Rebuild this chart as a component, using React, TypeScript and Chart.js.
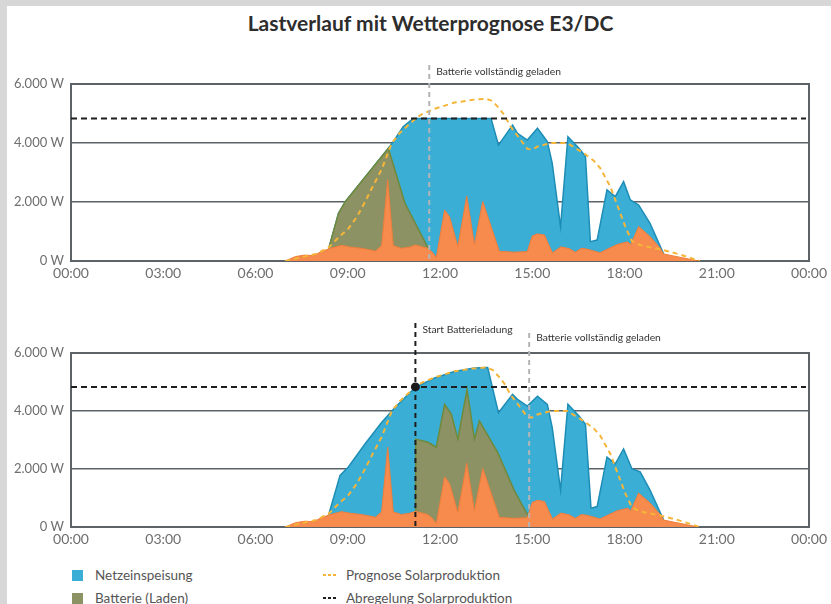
import React, { useEffect, useRef } from "react";
import { Chart, registerables } from "chart.js";

Chart.register(...registerables);

// ---------- data ----------
const titel = "Lastverlauf mit Wetterprognose E3/DC";
const xTickStunden = [0, 3, 6, 9, 12, 15, 18, 21, 24];
const yTickWerte = [0, 2000, 4000, 6000];
const abregelungGrenze = 4830; // W

// house consumption (orange), same day in both charts
const verbrauchZeit = [6.97, 7.3, 7.6, 7.9, 8.1, 8.4, 8.8, 9.1, 9.45, 9.9, 10.1, 10.3, 10.48, 10.75, 11.0, 11.2, 11.6, 11.75, 11.88, 12.15, 12.31, 12.58, 12.87, 13.12, 13.39, 13.93, 14.41, 14.84, 15.0, 15.17, 15.4, 15.55, 15.66, 15.93, 16.2, 16.4, 16.6, 16.8, 17.2, 17.76, 18.1, 18.2, 18.46, 18.83, 19.15, 19.27, 20.4];
const verbrauchWerte = [0, 150, 200, 180, 300, 420, 530, 470, 430, 340, 520, 2750, 520, 430, 470, 540, 430, 300, 120, 1730, 1500, 500, 2200, 560, 2020, 330, 300, 320, 850, 920, 880, 520, 280, 480, 420, 300, 430, 400, 280, 560, 650, 560, 1170, 830, 450, 240, 0];

// weather forecast of solar production (dashed)
const prognoseZeit = [6.97, 7.5, 8.0, 8.4, 8.7, 9.02, 9.3, 9.56, 9.8, 10.1, 10.43, 10.7, 10.96, 11.21, 11.4, 11.83, 12.47, 13.12, 13.5, 13.71, 13.9, 14.09, 14.3, 14.52, 14.84, 15.0, 15.17, 15.6, 16.14, 16.68, 17.0, 17.21, 17.54, 17.86, 18.05, 18.24, 18.5, 19.16, 19.8, 20.45];
const prognoseWerte = [0, 130, 250, 480, 800, 1100, 1500, 2000, 2500, 3100, 3990, 4350, 4600, 4830, 4970, 5160, 5370, 5470, 5500, 5420, 5200, 4950, 4550, 4250, 3800, 3780, 3880, 4000, 4000, 3650, 3400, 3150, 2520, 1620, 1100, 680, 540, 400, 220, 0];

// chart 1: total production (top of blue area), capped
const produktion1Zeit = [8.38, 8.7, 8.92, 10.32, 10.48, 10.8, 11.13, 13.66, 13.9, 14.36, 14.52, 14.84, 15.17, 15.49, 15.65, 15.92, 16.16, 16.52, 16.73, 16.89, 17.11, 17.43, 17.7, 17.97, 18.19, 18.46, 18.83, 19.27];
const produktion1Werte = [420, 1617, 2010, 3820, 4045, 4550, 4830, 4830, 3930, 4610, 4330, 4100, 4500, 4045, 3310, 1160, 4215, 3820, 3540, 655, 710, 2410, 2180, 2690, 2070, 1900, 1280, 240];

// chart 1: consumption + battery charging (top of olive area)
const batterie1Zeit = [8.38, 8.7, 8.92, 10.32, 10.86, 11.62];
const batterie1Werte = [420, 1617, 2010, 3820, 1955, 430];

// chart 2: total production (top of blue area), uncapped
const produktion2Zeit = [8.38, 8.75, 9.02, 9.56, 10.1, 10.53, 10.96, 11.21, 11.83, 12.47, 13.12, 13.55, 13.9, 14.36, 14.52, 14.84, 15.17, 15.49, 15.65, 15.92, 16.16, 16.52, 16.73, 16.91, 17.11, 17.43, 17.7, 17.97, 18.24, 18.51, 18.83, 19.27];
const produktion2Werte = [420, 1780, 2070, 2860, 3600, 4110, 4570, 4820, 5140, 5360, 5480, 5500, 3940, 4570, 4400, 4170, 4510, 4230, 3430, 1270, 4230, 3830, 3545, 650, 705, 2410, 2180, 2690, 2010, 1900, 1270, 250];

// chart 2: consumption + battery charging (top of olive area)
const batterie2Zeit = [11.2, 11.21, 11.61, 11.88, 12.15, 12.37, 12.58, 12.88, 13.12, 13.28, 13.87, 14.41, 14.7, 14.9];
const batterie2Werte = [540, 3030, 2920, 2750, 4230, 3890, 3030, 4740, 3030, 3660, 2580, 1270, 700, 330];

// event markers (hours)
const vollGeladen1 = 11.65;
const startLadung2 = 11.2;
const vollGeladen2 = 14.9;

const textVoll = "Batterie vollständig geladen";
const textStart = "Start Batterieladung";
const legendeNetz = "Netzeinspeisung";
const legendeBatterie = "Batterie (Laden)";
const legendePrognose = "Prognose Solarproduktion";
const legendeAbregelung = "Abregelung Solarproduktion";

// ---------- styles ----------
const BLUE = "#3BAED6";
const BLUE_EDGE = "#1D8DB6";
const OLIVE = "#8D9265";
const OLIVE_EDGE = "#6E8A3A";
const ORANGE = "#F68B4D";
const ORANGE_EDGE = "#EF7E3B";
const FORECAST = "#F5B539";
const FRAME = "#5B6268";
const FONT = "Lato, 'Open Sans', sans-serif";

function pts(t: number[], v: number[]) {
  return t.map((x, i) => ({ x, y: v[i] }));
}

function fmtTime(v: number) {
  return String(v % 24).padStart(2, "0") + ":00";
}
function fmtWatt(v: number) {
  if (v === 0) return "0 W";
  const k = Math.floor(v / 1000);
  const r = v % 1000;
  return k > 0 ? `${k}.${String(r).padStart(3, "0")} W` : `${r} W`;
}

type Marker = { t: number; color: string; text: string; lineTop: number; textY: number };

type Props = {
  top: number;
  height: number;
  padTop: number;
  prodT: number[];
  prodV: number[];
  battT: number[];
  battV: number[];
  markers: Marker[];
  dotAt?: number;
};

function EnergyChart(p: Props) {
  const ref = useRef<HTMLCanvasElement | null>(null);
  useEffect(() => {
    if (!ref.current) return;
    const overlay = {
      id: "overlay",
      beforeDatasetsDraw(chart: any) {
        const { ctx, chartArea: a } = chart;
        ctx.save();
        ctx.strokeStyle = FRAME;
        ctx.lineWidth = 2;
        ctx.strokeRect(a.left, a.top, a.right - a.left, a.bottom - a.top);
        ctx.restore();
      },
      afterDatasetsDraw(chart: any) {
        const { ctx, chartArea: a, scales } = chart;
        const xs = scales.x;
        const ys = scales.y;
        ctx.save();
        // curtailment line
        const yc = ys.getPixelForValue(abregelungGrenze);
        ctx.strokeStyle = "#1E1E1E";
        ctx.lineWidth = 2;
        ctx.setLineDash([6, 4]);
        ctx.beginPath();
        ctx.moveTo(a.left, yc);
        ctx.lineTo(a.right - 3, yc);
        ctx.stroke();
        // markers
        for (const m of p.markers) {
          const x = xs.getPixelForValue(m.t);
          ctx.strokeStyle = m.color;
          ctx.lineWidth = 2;
          ctx.setLineDash([5, 4]);
          ctx.beginPath();
          ctx.moveTo(x, m.lineTop);
          ctx.lineTo(x, a.bottom);
          ctx.stroke();
          ctx.setLineDash([]);
          ctx.fillStyle = "#333";
          ctx.font = `10.3px ${FONT}`;
          ctx.textBaseline = "middle";
          ctx.textAlign = "left";
          ctx.fillText(m.text, x + 7, m.textY);
        }
        if (p.dotAt !== undefined) {
          const x = xs.getPixelForValue(p.dotAt);
          ctx.fillStyle = "#1A1A1A";
          ctx.beginPath();
          ctx.arc(x, yc, 4.5, 0, Math.PI * 2);
          ctx.fill();
        }
        ctx.restore();
      },
    };
    const chart = new Chart(ref.current, {
      type: "line",
      data: {
        datasets: [
          {
            label: legendePrognose,
            data: pts(prognoseZeit, prognoseWerte),
            borderColor: FORECAST,
            borderWidth: 2,
            borderDash: [5, 4],
            fill: false,
            pointRadius: 0,
            order: 0,
          },
          {
            label: "Verbrauch",
            data: pts(verbrauchZeit, verbrauchWerte),
            borderColor: ORANGE_EDGE,
            backgroundColor: ORANGE,
            borderWidth: 1,
            fill: "origin",
            pointRadius: 0,
            order: 1,
          },
          {
            label: legendeBatterie,
            data: pts(p.battT, p.battV),
            borderColor: OLIVE_EDGE,
            backgroundColor: OLIVE,
            borderWidth: 1.5,
            fill: "origin",
            pointRadius: 0,
            order: 2,
          },
          {
            label: legendeNetz,
            data: pts(p.prodT, p.prodV),
            borderColor: BLUE_EDGE,
            backgroundColor: BLUE,
            borderWidth: 1.5,
            fill: "origin",
            pointRadius: 0,
            order: 3,
          },
        ],
      },
      options: {
        animation: false,
        responsive: true,
        maintainAspectRatio: false,
        layout: { padding: { top: p.padTop, right: 18, left: 0, bottom: 0 } },
        plugins: { legend: { display: false }, tooltip: { enabled: false } },
        elements: { line: { tension: 0 } },
        scales: {
          x: {
            type: "linear",
            min: 0,
            max: 24,
            afterBuildTicks: (s: any) => {
              s.ticks = xTickStunden.map((v) => ({ value: v }));
            },
            ticks: {
              callback: (v: any) => fmtTime(Number(v)),
              color: "#6E6E6E",
              font: { family: FONT, size: 14 },
              padding: 4,
              maxRotation: 0,
              autoSkip: false,
            },
            grid: { display: false, drawTicks: false },
            border: { display: false },
            afterFit: (s: any) => {
              s.height = 24;
            },
          },
          y: {
            min: 0,
            max: 6000,
            afterBuildTicks: (s: any) => {
              s.ticks = yTickWerte.map((v) => ({ value: v }));
            },
            ticks: {
              callback: (v: any) => fmtWatt(Number(v)),
              color: "#6E6E6E",
              font: { family: FONT, size: 13 },
              padding: 7,
            },
            grid: { color: FRAME, lineWidth: 1.5, drawTicks: false },
            border: { display: false },
            afterFit: (s: any) => {
              s.width = 71;
            },
          },
        },
      },
      plugins: [overlay],
    } as any);
    return () => chart.destroy();
  }, []);
  return (
    <div style={{ position: "absolute", left: 0, top: p.top, width: 831, height: p.height }}>
      <canvas ref={ref} />
    </div>
  );
}

function Square({ color }: { color: string }) {
  return <span style={{ display: "inline-block", width: 11, height: 11, background: color, marginRight: 12 }} />;
}
function Dashes({ color }: { color: string }) {
  return (
    <span style={{ display: "inline-flex", gap: 2, marginRight: 10, alignItems: "center" }}>
      {[0, 1, 2].map((i) => (
        <span key={i} style={{ display: "inline-block", width: 3, height: 2, background: color }} />
      ))}
    </span>
  );
}

export default function App() {
  const legendText: React.CSSProperties = {
    position: "absolute",
    display: "flex",
    alignItems: "center",
    fontFamily: FONT,
    fontSize: 13.5,
    color: "#555",
    lineHeight: "16px",
  };
  return (
    <div style={{ position: "absolute", left: 0, top: 0, width: 831, height: 604, background: "#D7D7D7", overflow: "hidden" }}>
      <div style={{ position: "absolute", left: 7, top: 6, width: 824, height: 598, background: "#fff" }} />
      <div
        style={{
          position: "absolute",
          left: 30,
          top: 10,
          width: 801,
          textAlign: "center",
          fontFamily: FONT,
          fontWeight: 700,
          fontSize: 21,
          color: "#2D2D2D",
        }}
      >
        {titel}
      </div>
      <EnergyChart
        top={60}
        height={225}
        padTop={24}
        prodT={produktion1Zeit}
        prodV={produktion1Werte}
        battT={batterie1Zeit}
        battV={batterie1Werte}
        markers={[{ t: vollGeladen1, color: "#B4B4B4", text: textVoll, lineTop: 5, textY: 12 }]}
      />
      <EnergyChart
        top={320}
        height={231}
        padTop={33}
        prodT={produktion2Zeit}
        prodV={produktion2Werte}
        battT={batterie2Zeit}
        battV={batterie2Werte}
        markers={[
          { t: startLadung2, color: "#1E1E1E", text: textStart, lineTop: 3, textY: 10 },
          { t: vollGeladen2, color: "#B4B4B4", text: textVoll, lineTop: 13, textY: 18 },
        ]}
        dotAt={startLadung2}
      />
      <div style={{ ...legendText, left: 72, top: 567 }}>
        <Square color={BLUE} />
        {legendeNetz}
      </div>
      <div style={{ ...legendText, left: 72, top: 590 }}>
        <Square color={OLIVE} />
        {legendeBatterie}
      </div>
      <div style={{ ...legendText, left: 323, top: 567 }}>
        <Dashes color={FORECAST} />
        {legendePrognose}
      </div>
      <div style={{ ...legendText, left: 323, top: 590 }}>
        <Dashes color="#1E1E1E" />
        {legendeAbregelung}
      </div>
    </div>
  );
}
